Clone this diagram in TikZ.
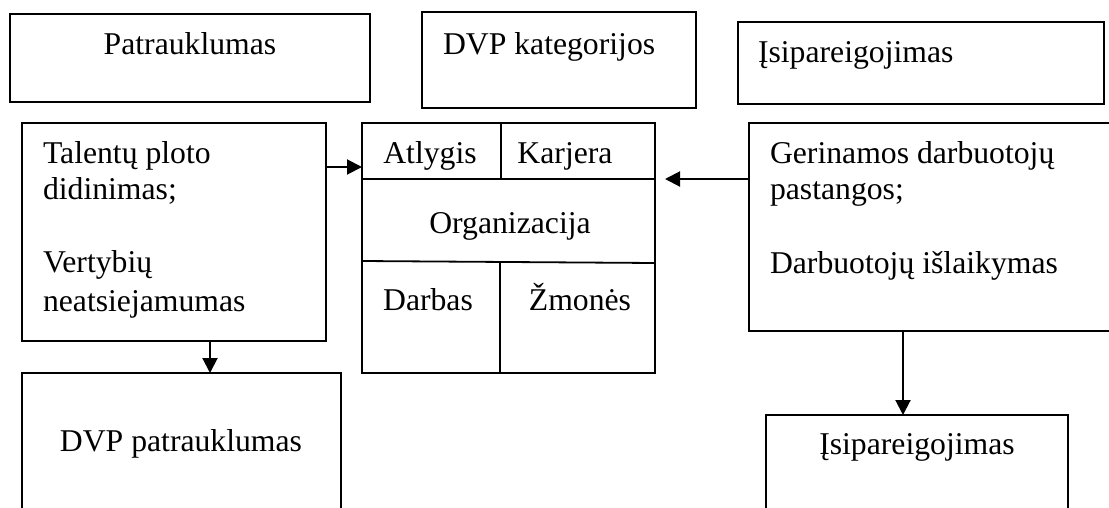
\documentclass[tikz,border=0pt]{standalone}
\usepackage{fontspec}
\setmainfont{Liberation Serif}
\usetikzlibrary{arrows.meta}
\begin{document}
\begin{tikzpicture}[x=1pt,y=-1pt,
  frame/.style={draw, line width=1.8pt, rectangle, inner sep=0pt, outer sep=0pt, anchor=north west},
  rule/.style={line width=1.8pt},
  txt/.style={inner sep=0pt, outer sep=0pt, font=\fontsize{31.7}{36}\selectfont},
  link/.style={line width=2pt, -{Triangle[length=15pt,width=15pt]}}]
\clip (0,0) rectangle (1109,507);
\useasboundingbox (0,0) rectangle (1109,507);

% top row headings
\node[frame, minimum width=360pt, minimum height=88pt] (pat) at (10,14) {};
\node[frame, minimum width=274pt, minimum height=96pt] (cat) at (422,12) {};
\node[frame, minimum width=366pt, minimum height=82pt] (isi) at (738,22) {};

% middle row
\node[frame, minimum width=304pt, minimum height=218pt] (tal) at (22,123) {};
\node[frame, minimum width=293pt, minimum height=250pt] (tab) at (362,123) {};
\node[frame, minimum width=381pt, minimum height=208pt] (ger) at (749,123) {};

% bottom row (running past the lower edge)
\node[frame, minimum width=319pt, minimum height=160pt] (dvp) at (22,373) {};
\node[frame, minimum width=302pt, minimum height=120pt] (isb) at (766,415) {};

% table cells
\draw[rule] (tab.west |- 0,179) -- (tab.east |- 0,179);
\draw[rule] (362,261) -- (655,263);
\draw[rule] (501,123) -- (501,179);
\draw[rule] (500,262) -- (500,373);

% texts
\node[txt, anchor=base] (pat-t) at (190,54) {Patrauklumas};
\node[txt, anchor=base west] (cat-t) at (443,54) {DVP kategorijos};
\node[txt, anchor=base west] (isi-t) at (758,62) {Įsipareigojimas};

\node[txt, anchor=base west] (tal-1) at (43,163) {Talentų ploto};
\node[txt, anchor=base west] (tal-2) at (43,199) {didinimas;};
\node[txt, anchor=base west] (tal-3) at (43,272) {Vertybių};
\node[txt, anchor=base west] (tal-4) at (43,311) {neatsiejamumas};

\node[txt, anchor=base] (c-atl) at (430,163) {Atlygis};
\node[txt, anchor=base] (c-kar) at (565,163) {Karjera};
\node[txt, anchor=base] (c-org) at (510,233) {Organizacija};
\node[txt, anchor=base] (c-dar) at (428,310) {Darbas};
\node[txt, anchor=base] (c-zmo) at (580,310) {Žmonės};

\node[txt, anchor=base west] (ger-1) at (770,163) {Gerinamos darbuotojų};
\node[txt, anchor=base west] (ger-2) at (770,199) {pastangos;};
\node[txt, anchor=base west] (ger-3) at (770,273) {Darbuotojų išlaikymas};

\node[txt, anchor=base] (dvp-t) at (181,451) {DVP patrauklumas};
\node[txt, anchor=base] (isb-t) at (917,454) {Įsipareigojimas};

% connectors
\coordinate (ya) at (0,167);
\coordinate (tip) at (665,179);
\coordinate (xa) at (210,0);
\coordinate (xb) at (903,0);
\draw[link] (tal.east |- ya) -- (tab.west |- ya);
\draw[link] (ger.west |- tip) -- (tip);
\draw[link] (tal.south -| xa) -- (dvp.north -| xa);
\draw[link] (ger.south -| xb) -- (isb.north -| xb);
\end{tikzpicture}
\end{document}
